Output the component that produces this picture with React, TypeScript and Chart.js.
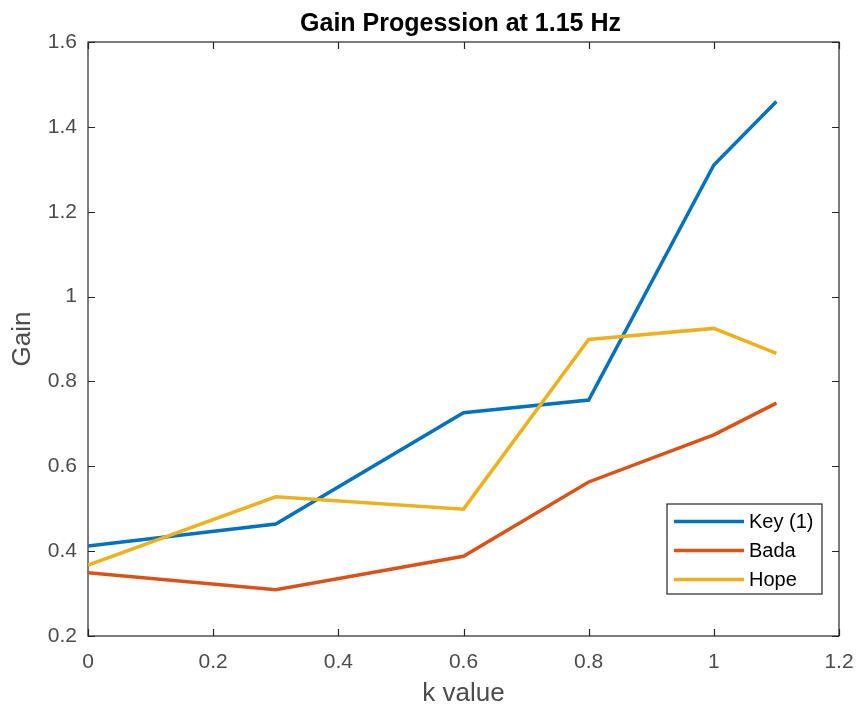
import React, { useEffect, useRef } from "react";
import { Chart, registerables } from "chart.js";

Chart.register(...registerables);

// ---- data ----
const kValues = [0, 0.3, 0.6, 0.8, 1.0, 1.1];
const keyGain = [0.412, 0.464, 0.726, 0.756, 1.31, 1.46];
const badaGain = [0.349, 0.309, 0.388, 0.563, 0.674, 0.749];
const hopeGain = [0.367, 0.528, 0.499, 0.899, 0.925, 0.866];
const seriesNames = ["Key (1)", "Bada", "Hope"];
const seriesColors = ["#0072BD", "#D95319", "#EDB120"];
const xTicks = [0, 0.2, 0.4, 0.6, 0.8, 1, 1.2];
const yTicks = [0.2, 0.4, 0.6, 0.8, 1, 1.2, 1.4, 1.6];
const titleText = "Gain Progession at 1.15 Hz";
const xLabel = "k value";
const yLabel = "Gain";

const FONT = "'Liberation Sans', Arial, Helvetica, sans-serif";
const AXIS_COLOR = "#262626";
const TICK_TEXT = "#4d4d4d";

const fmt = (v: number) => String(parseFloat(Number(v).toFixed(4)));

const titlePlugin = {
  id: "matlabTitle",
  afterDraw(chart: any) {
    const { ctx, chartArea } = chart;
    ctx.save();
    ctx.font = `bold 25px ${FONT}`;
    ctx.fillStyle = "#000000";
    ctx.textAlign = "center";
    ctx.textBaseline = "alphabetic";
    ctx.fillText(titleText, (chartArea.left + chartArea.right) / 2 - 3, 31);
    ctx.restore();
  },
};

const boxPlugin = {
  id: "matlabBox",
  beforeDatasetsDraw(chart: any) {
    const { ctx, chartArea } = chart;
    const { left, right, top, bottom } = chartArea;
    const xs = chart.scales.x;
    const ys = chart.scales.y;
    const tl = 7;
    ctx.save();
    ctx.strokeStyle = AXIS_COLOR;
    ctx.lineWidth = 1.2;
    ctx.strokeRect(left, top, right - left, bottom - top);
    ctx.beginPath();
    xTicks.forEach((v) => {
      const p = Math.round(xs.getPixelForValue(v)) + 0.5;
      ctx.moveTo(p, bottom);
      ctx.lineTo(p, bottom - tl);
      ctx.moveTo(p, top);
      ctx.lineTo(p, top + tl);
    });
    yTicks.forEach((v) => {
      const p = Math.round(ys.getPixelForValue(v)) + 0.5;
      ctx.moveTo(left, p);
      ctx.lineTo(left + tl, p);
      ctx.moveTo(right, p);
      ctx.lineTo(right - tl, p);
    });
    ctx.stroke();
    ctx.restore();
  },
};

const legendPlugin = {
  id: "matlabLegend",
  afterDraw(chart: any) {
    const { ctx, chartArea } = chart;
    const boxRight = chartArea.right - 17;
    const boxBottom = chartArea.bottom - 42;
    const boxW = 155;
    const boxH = 90;
    const x0 = boxRight - boxW;
    const y0 = boxBottom - boxH;
    ctx.save();
    ctx.fillStyle = "#ffffff";
    ctx.fillRect(x0, y0, boxW, boxH);
    ctx.strokeStyle = AXIS_COLOR;
    ctx.lineWidth = 1.2;
    ctx.strokeRect(x0, y0, boxW, boxH);
    ctx.font = `20px ${FONT}`;
    ctx.textBaseline = "middle";
    ctx.textAlign = "left";
    chart.data.datasets.forEach((ds: any, i: number) => {
      const cy = y0 + 17.5 + i * 29;
      ctx.strokeStyle = ds.borderColor;
      ctx.lineWidth = 3.5;
      ctx.beginPath();
      ctx.moveTo(x0 + 7, cy);
      ctx.lineTo(x0 + 77, cy);
      ctx.stroke();
      ctx.fillStyle = "#000000";
      ctx.fillText(ds.label, x0 + 82, cy + 1);
    });
    ctx.restore();
  },
};

export default function App() {
  const ref = useRef<HTMLCanvasElement | null>(null);

  useEffect(() => {
    if (!ref.current) return;
    const series = [keyGain, badaGain, hopeGain];
    const chart = new Chart(ref.current, {
      type: "line",
      data: {
        datasets: series.map((vals, i) => ({
          label: seriesNames[i],
          data: kValues.map((x, j) => ({ x, y: vals[j] })),
          borderColor: seriesColors[i],
          backgroundColor: seriesColors[i],
          borderWidth: 3.5,
          pointRadius: 0,
          tension: 0,
          fill: false,
          order: series.length - i,
        })),
      },
      options: {
        responsive: false,
        animation: false,
        layout: { padding: { left: 0, right: 0, top: 42, bottom: 0 } },
        plugins: {
          legend: { display: false },
          tooltip: { enabled: false },
          title: { display: false },
        },
        scales: {
          x: {
            type: "linear",
            min: 0,
            max: 1.2,
            afterBuildTicks: (s: any) => {
              s.ticks = xTicks.map((v) => ({ value: v }));
            },
            afterFit: (s: any) => {
              s.height = 72;
              s.paddingLeft = 0;
              s.paddingRight = 20;
            },
            ticks: {
              color: TICK_TEXT,
              font: { family: FONT, size: 21 },
              padding: 14,
              maxRotation: 0,
              autoSkip: false,
              callback: (v: any) => fmt(v),
            },
            grid: { display: false, drawTicks: false },
            border: { display: false },
            title: {
              display: true,
              text: xLabel,
              color: TICK_TEXT,
              font: { family: FONT, size: 26, lineHeight: 1.1 },
              padding: { top: 0, bottom: 0 },
            },
          },
          y: {
            type: "linear",
            min: 0.2,
            max: 1.6,
            afterBuildTicks: (s: any) => {
              s.ticks = yTicks.map((v) => ({ value: v }));
            },
            afterFit: (s: any) => {
              s.width = 88;
              s.paddingTop = 0;
              s.paddingBottom = 0;
            },
            ticks: {
              color: TICK_TEXT,
              font: { family: FONT, size: 21 },
              padding: 11,
              autoSkip: false,
              callback: (v: any) => fmt(v),
            },
            grid: { display: false, drawTicks: false },
            border: { display: false },
            title: {
              display: true,
              text: yLabel,
              color: TICK_TEXT,
              font: { family: FONT, size: 26, lineHeight: 1.1 },
              padding: { top: 9, bottom: 0 },
            },
          },
        },
      },
      plugins: [boxPlugin, legendPlugin, titlePlugin],
    } as any);
    return () => chart.destroy();
  }, []);

  return (
    <div style={{ position: "fixed", left: 0, top: 0, width: 859, height: 708, background: "#ffffff" }}>
      <canvas ref={ref} width={859} height={708} style={{ display: "block" }} />
    </div>
  );
}
